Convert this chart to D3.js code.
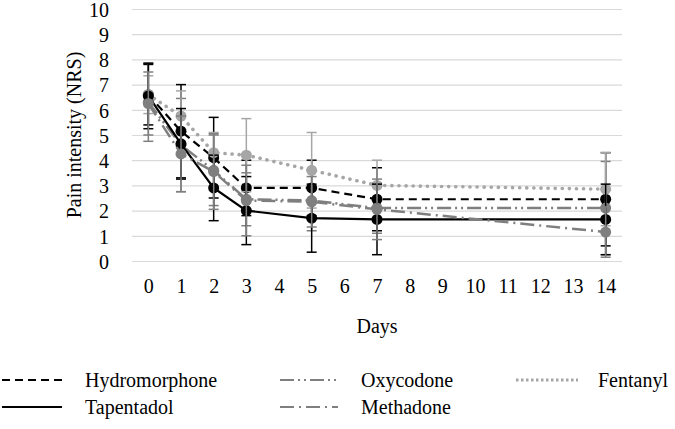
<!DOCTYPE html>
<html>
<head>
<meta charset="utf-8">
<script src="https://cdn.jsdelivr.net/npm/d3@7"></script>
<style>
  body { margin: 0; background: #fff; }
</style>
</head>
<body>
<div class="container"></div>
<script>
// data
let dayTicks = d3.range(0, 15)
let days = [0, 1, 2, 3, 5, 7, 14]

let hydromorphone = [6.6, 5.15, 4.1, 2.9, 2.9, 2.45, 2.45]
let hydromorphoneSd = [1.2, 1.85, 1.6, 1.1, 1.1, 1.25, 1.85]
let oxycodone = [6.3, 4.6, 3.6, 2.45, 2.4, 2.1, 2.1]
let oxycodoneSd = [1.55, 1.85, 1.4, 1.05, 1.2, 1.0, 1.85]
let fentanyl = [6.6, 5.75, 4.3, 4.2, 3.6, 3.0, 2.85]
let fentanylSd = [0.75, 1.0, 0.8, 1.45, 1.5, 1.0, 1.45]
let tapentadol = [6.55, 4.65, 2.9, 2.0, 1.7, 1.65, 1.65]
let tapentadolSd = [1.3, 1.4, 1.3, 1.35, 1.35, 1.4, 1.4]
let methadone = [6.25, 4.25, 3.55, 2.4, 2.35, 2.05, 1.15]
let methadoneSd = [1.25, 1.5, 1.5, 1.4, 1.0, 1.2, 1.0]

let series = [
  { name: 'Hydromorphone', values: hydromorphone, sd: hydromorphoneSd, color: '#000', dash: '8,5', width: 2.2, cap: 'butt' },
  { name: 'Oxycodone', values: oxycodone, sd: oxycodoneSd, color: '#7f7f7f', dash: '14,4,2,4,2,4', width: 2.5, cap: 'butt' },
  { name: 'Fentanyl', values: fentanyl, sd: fentanylSd, color: '#a6a6a6', dash: '0.1,7', width: 3.6, cap: 'round' },
  { name: 'Tapentadol', values: tapentadol, sd: tapentadolSd, color: '#000', dash: null, width: 2.2, cap: 'butt' },
  { name: 'Methadone', values: methadone, sd: methadoneSd, color: '#7f7f7f', dash: '14,5,2,5', width: 2.5, cap: 'butt' }
]

const width = 675, height = 429
const plot = { left: 132, right: 622, top: 9, bottom: 261 }
const serif = "'Liberation Serif', 'Times New Roman', 'DejaVu Serif', serif"

let svg = d3.select('.container').append('svg')
  .attr('xmlns', 'http://www.w3.org/2000/svg')
  .attr('width', width)
  .attr('height', height)
  .attr('font-family', serif)

let x = d3.scalePoint().domain(dayTicks).range([plot.left, plot.right]).padding(0.5)
let y = d3.scaleLinear().domain([0, 10]).range([plot.bottom, plot.top])

// gridlines
svg.append('g')
  .attr('transform', `translate(${plot.left},0)`)
  .call(d3.axisLeft(y).ticks(10).tickSize(-(plot.right - plot.left)).tickFormat(''))
  .call(g => g.select('.domain').remove())
  .call(g => g.selectAll('line').attr('stroke', '#d9d9d9').attr('stroke-width', 1.2))

// y tick labels
svg.append('g')
  .attr('transform', `translate(${plot.left},0)`)
  .call(d3.axisLeft(y).ticks(10).tickSize(0).tickPadding(23))
  .attr('font-family', serif)
  .call(g => g.select('.domain').remove())
  .call(g => g.selectAll('text').attr('font-family', serif).attr('font-size', 20).attr('dy', '0.36em'))

// x tick labels
svg.append('g')
  .attr('transform', `translate(0,${plot.bottom})`)
  .call(d3.axisBottom(x).tickSize(0).tickPadding(18))
  .attr('font-family', serif)
  .call(g => g.select('.domain').remove())
  .call(g => g.selectAll('text').attr('font-family', serif).attr('font-size', 20))

svg.append('text')
  .attr('x', (plot.left + plot.right) / 2)
  .attr('y', 333)
  .attr('text-anchor', 'middle')
  .attr('font-family', serif)
  .attr('font-size', 20)
  .text('Days')

svg.append('text')
  .attr('transform', `translate(81,${(plot.top + plot.bottom) / 2}) rotate(-90)`)
  .attr('text-anchor', 'middle')
  .attr('font-family', serif)
  .attr('font-size', 20)
  .text('Pain intensity (NRS)')

let line = d3.line()
  .x(d => x(d[0]))
  .y(d => y(d[1]))

for (let s of series) {
  let pts = days.map((d, i) => [d, s.values[i], s.sd[i]])
  let g = svg.append('g')

  // error bars
  let eb = g.selectAll('.eb').data(pts).enter().append('g')
  eb.append('line')
    .attr('x1', d => x(d[0])).attr('x2', d => x(d[0]))
    .attr('y1', d => y(d[1] + d[2])).attr('y2', d => y(d[1] - d[2]))
    .attr('stroke', s.color).attr('stroke-width', 1.5)
  for (let sign of [1, -1]) {
    eb.append('line')
      .attr('x1', d => x(d[0]) - 5).attr('x2', d => x(d[0]) + 5)
      .attr('y1', d => y(d[1] + sign * d[2])).attr('y2', d => y(d[1] + sign * d[2]))
      .attr('stroke', s.color).attr('stroke-width', 1.5)
  }

  g.append('path')
    .datum(pts)
    .attr('fill', 'none')
    .attr('stroke', s.color)
    .attr('stroke-width', s.width)
    .attr('stroke-linecap', s.cap)
    .attr('stroke-dasharray', s.dash)
    .attr('d', line)

  g.selectAll('circle').data(pts).enter().append('circle')
    .attr('cx', d => x(d[0]))
    .attr('cy', d => y(d[1]))
    .attr('r', 5.5)
    .attr('fill', s.color)
}

// legend
let legendPos = [
  { x: 2, y: 380 }, { x: 280, y: 380 }, { x: 516, y: 380 },
  { x: 2, y: 407 }, { x: 280, y: 407 }
]
let legendLen = [60, 58, 62, 60, 58]
let legend = svg.append('g')
series.forEach((s, i) => {
  let p = legendPos[i]
  legend.append('line')
    .attr('x1', p.x).attr('x2', p.x + legendLen[i])
    .attr('y1', p.y).attr('y2', p.y)
    .attr('stroke', s.color)
    .attr('stroke-width', s.name == 'Fentanyl' ? 3 : 2.2)
    .attr('stroke-linecap', s.name == 'Fentanyl' ? 'butt' : s.cap)
    .attr('stroke-dasharray', s.name == 'Fentanyl' ? '2.5,2.5' : s.dash)
  legend.append('text')
    .attr('x', p.x + legendLen[i] + (s.name == 'Fentanyl' ? 20 : 23))
    .attr('y', p.y + 7)
    .attr('font-family', serif)
    .attr('font-size', 20)
    .text(s.name)
})
</script>
</body>
</html>
